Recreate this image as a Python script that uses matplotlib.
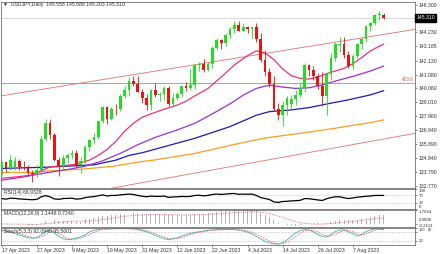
import matplotlib
matplotlib.use("Agg")
import matplotlib.pyplot as plt

plt.rcParams['font.family'] = ['Liberation Sans', 'DejaVu Sans']

# --- USDJPY daily candles, 17 Apr 2023 .. 16 Aug 2023 ---
opens = [134.10, 134.55, 134.10, 134.20, 134.65, 134.20, 134.10, 133.75, 133.65, 133.95,
         136.30, 137.45, 136.55, 134.70, 134.25, 134.85, 135.05, 135.25, 134.35, 134.60,
         135.70, 136.20, 136.45, 137.60, 138.70, 137.75, 138.55, 138.50, 139.45, 139.95,
         140.60, 140.40, 139.80, 139.30, 138.80, 139.95, 139.55, 139.60, 140.10, 138.90,
         139.35, 139.60, 140.20, 140.05, 140.30, 141.80, 141.90, 141.45, 141.90, 143.10,
         143.70, 143.45, 144.05, 144.45, 144.80, 144.30, 144.65, 144.45, 144.65, 143.75,
         142.15, 141.30, 140.35, 138.50, 138.10, 138.80, 138.90, 139.25, 139.55, 140.10,
         141.80, 141.45, 140.95, 140.25, 139.45, 141.15, 142.30, 143.30, 143.40, 142.55,
         141.75, 142.45, 143.35, 143.75, 144.70, 144.95, 145.55, 145.558]
highs = [134.60, 134.65, 135.10, 134.95, 134.75, 134.60, 134.35, 134.00, 134.30, 136.55,
         137.75, 137.80, 136.70, 134.90, 135.10, 135.25, 135.45, 135.45, 134.90, 135.80,
         136.30, 136.70, 137.65, 138.75, 138.75, 138.70, 138.90, 139.60, 140.20, 140.90,
         140.95, 140.95, 140.00, 139.60, 140.00, 140.45, 139.75, 140.25, 140.25, 139.70,
         139.80, 140.25, 140.50, 141.50, 141.90, 142.00, 142.25, 142.00, 143.20, 143.85,
         143.75, 144.15, 144.60, 145.05, 145.07, 144.90, 144.70, 144.70, 144.90, 144.20,
         142.90, 141.55, 140.95, 139.00, 139.10, 139.45, 139.55, 139.95, 140.50, 141.95,
         141.85, 141.70, 141.20, 141.30, 141.15, 142.70, 143.55, 143.90, 143.90, 142.85,
         142.60, 143.45, 143.85, 144.75, 145.00, 145.58, 145.86, 145.688]
lows = [133.60, 133.85, 134.00, 134.00, 134.00, 133.95, 133.55, 133.05, 133.45, 133.60,
        136.15, 136.30, 134.60, 133.50, 133.95, 134.50, 134.80, 134.10, 133.75, 134.40,
        135.40, 135.90, 136.30, 137.50, 137.40, 137.70, 138.10, 138.40, 139.30, 139.50,
        140.20, 139.75, 138.95, 138.45, 138.45, 139.40, 139.10, 139.20, 138.75, 138.75,
        139.15, 139.40, 139.85, 139.90, 140.00, 141.35, 141.25, 141.35, 141.60, 142.95,
        143.00, 143.20, 143.85, 144.20, 144.30, 144.30, 144.20, 143.85, 143.55, 142.05,
        141.00, 140.15, 138.40, 137.70, 137.25, 138.05, 138.55, 138.80, 139.40, 139.75,
        141.00, 140.70, 140.00, 138.75, 138.05, 140.70, 142.10, 142.80, 142.30, 141.55,
        141.50, 142.30, 143.00, 143.55, 144.35, 144.75, 145.15, 145.203]
closes = [134.55, 134.10, 134.70, 134.65, 134.20, 134.10, 133.75, 133.65, 133.95, 136.30,
          137.45, 136.55, 134.70, 134.25, 134.85, 135.05, 135.25, 134.35, 134.60, 135.70,
          136.20, 136.45, 137.60, 138.70, 137.75, 138.55, 138.50, 139.45, 139.95, 140.60,
          140.40, 139.80, 139.30, 138.80, 139.95, 139.55, 139.60, 140.10, 138.90, 139.35,
          139.60, 140.20, 140.05, 140.30, 141.80, 141.90, 141.45, 141.90, 143.10, 143.70,
          143.45, 144.05, 144.45, 144.80, 144.30, 144.65, 144.45, 144.65, 143.75, 142.15,
          141.30, 140.35, 138.50, 138.10, 138.80, 139.35, 139.25, 139.55, 140.10, 141.80,
          141.45, 140.95, 140.25, 139.45, 141.15, 142.30, 143.35, 143.40, 142.55, 141.75,
          142.45, 143.35, 143.75, 144.70, 144.95, 145.55, 145.58, 145.310]

# moving averages, sampled (bar index, price)
pink_idx = [0, 4, 7, 9, 11, 14, 17, 20, 22, 24, 26, 28, 30, 32, 34, 37, 40, 42, 44, 47, 50,
            53, 56, 58, 60, 62, 64, 66, 68, 70, 72, 74, 76, 78, 80, 82, 84, 86, 87]
pink_val = [133.35, 133.47, 133.60, 133.90, 134.20, 134.28, 134.40, 134.70, 135.05, 135.50,
            136.10, 136.85, 137.45, 137.90, 138.15, 138.50, 138.80, 139.10, 139.50, 140.05,
            140.90, 141.80, 142.50, 142.85, 142.70, 142.20, 141.50, 141.00, 140.80, 140.75,
            140.90, 141.15, 141.35, 141.55, 141.90, 142.35, 142.85, 143.20, 143.35]
purple_idx = [0, 5, 10, 15, 19, 23, 27, 31, 35, 40, 44, 48, 52, 55, 58, 61, 64, 67, 70, 73,
              76, 80, 84, 87]
purple_val = [133.20, 133.45, 133.75, 134.00, 134.25, 134.65, 135.20, 135.85, 136.40, 136.95,
              137.45, 138.15, 138.90, 139.55, 140.05, 140.30, 140.15, 140.05, 140.10, 140.30,
              140.60, 140.95, 141.35, 141.72]
blue_idx = [0, 10, 15, 21, 26, 29, 32, 37, 44, 52, 58, 61, 66, 70, 75, 79, 84, 87]
blue_val = [134.08, 134.17, 134.25, 134.35, 134.70, 135.05, 135.25, 135.70, 136.33, 137.20,
            138.05, 138.32, 138.45, 138.62, 138.95, 139.20, 139.57, 139.88]
orange_idx = [0, 7, 11, 18, 25, 31, 35, 44, 52, 60, 68, 76, 84, 87]
orange_val = [133.78, 133.78, 133.90, 134.02, 134.22, 134.55, 134.72, 135.20, 135.80, 136.35,
              136.70, 137.08, 137.50, 137.70]

# trend lines / levels
upper_idx, upper_val = [-0.2, 94.2], [139.49, 144.46]
lower_idx, lower_val = [20.0, 94.2], [132.31, 136.70]
fibo_level = 140.46
fibo_text = "423.6"
last_price = 145.310
price_ticks = [146.300, 145.265, 144.230, 143.185, 142.130, 141.080, 140.060, 139.010,
               137.960, 136.940, 135.890, 134.840, 133.790, 132.770]

rsi = [51, 48, 53, 52, 49, 48, 46, 45, 47, 60, 66, 60, 49, 47, 51, 52, 53, 48, 50, 56,
       59, 61, 65, 70, 64, 67, 67, 70, 72, 74, 72, 67, 63, 60, 64, 62, 62, 64, 57, 59,
       60, 62, 61, 62, 67, 68, 65, 67, 72, 74, 72, 74, 76, 77, 73, 74, 73, 74, 67, 56,
       51, 46, 34, 31, 36, 37, 39, 40, 42, 51, 50, 47, 44, 41, 50, 56, 60, 60, 55, 51,
       54, 58, 60, 63, 64, 67, 67, 66.93]

macd = [-0.10, -0.10, -0.05, -0.04, -0.06, -0.09, -0.14, -0.20, -0.22, 0.01,
        0.30, 0.45, 0.40, 0.30, 0.28, 0.28, 0.30, 0.23, 0.25, 0.55,
        0.62, 0.70, 0.85, 1.00, 1.02, 1.08, 1.12, 1.18, 1.25, 1.32,
        1.35, 1.33, 1.30, 1.24, 1.25, 1.22, 1.20, 1.20, 1.12, 1.10,
        1.10, 1.14, 1.14, 1.17, 1.25, 1.30, 1.30, 1.34, 1.43, 1.53,
        1.57, 1.63, 1.68, 1.73, 1.71, 1.73, 1.7654, 1.72, 1.62, 1.38,
        1.10, 0.80, 0.45, 0.12, -0.05, -0.18, -0.25, -0.28, -0.25, -0.05,
        0.05, 0.08, 0.05, -0.05, 0.05, 0.20, 0.38, 0.48, 0.50, 0.43,
        0.42, 0.50, 0.60, 0.74, 0.88, 1.02, 1.12, 1.1448]
macd_signal = [-0.05, -0.06, -0.07, -0.07, -0.07, -0.08, -0.09, -0.10, -0.11, -0.09,
               -0.04, 0.03, 0.09, 0.14, 0.19, 0.24, 0.29, 0.31, 0.30, 0.31,
               0.33, 0.37, 0.44, 0.52, 0.60, 0.68, 0.76, 0.85, 0.94, 1.00,
               1.05, 1.09, 1.12, 1.15, 1.17, 1.18, 1.19, 1.19, 1.18, 1.17,
               1.15, 1.14, 1.13, 1.13, 1.14, 1.15, 1.17, 1.19, 1.22, 1.26,
               1.30, 1.34, 1.38, 1.42, 1.45, 1.48, 1.50, 1.52, 1.52, 1.49,
               1.42, 1.30, 1.15, 0.98, 0.80, 0.60, 0.42, 0.26, 0.12, 0.03,
               -0.03, -0.07, -0.08, -0.07, -0.05, -0.02, 0.04, 0.11, 0.18, 0.23,
               0.28, 0.34, 0.41, 0.48, 0.55, 0.62, 0.68, 0.724]

stoch_main = [88, 82, 76, 68, 58, 50, 42, 38, 42, 60, 80, 88, 70, 50, 36, 29, 33, 40, 48, 59,
              78, 88, 93, 97, 96, 97, 98, 98, 98, 97, 96, 92, 85, 78, 68, 56, 45, 36, 30, 36,
              42, 52, 62, 69, 75, 79, 84, 88, 90, 92, 91, 92, 93, 92, 88, 84, 76, 65, 50, 34,
              20, 10, 4, 2, 12, 28, 52, 72, 86, 92, 90, 78, 62, 50, 46, 62, 80, 90, 90, 78,
              66, 52, 62, 80, 90, 96, 96, 92.09]
stoch_signal = [85, 84, 80, 75, 67, 59, 50, 43, 41, 47, 61, 76, 79, 69, 52, 38, 33, 34, 40, 49,
                62, 75, 86, 93, 95, 97, 97, 98, 98, 98, 97, 95, 91, 85, 77, 67, 56, 46, 37, 34,
                36, 43, 52, 61, 69, 74, 79, 84, 87, 90, 91, 92, 92, 92, 91, 88, 83, 75, 64, 50,
                35, 21, 11, 5, 6, 14, 31, 51, 70, 83, 89, 87, 77, 63, 53, 53, 63, 77, 87, 86,
                78, 65, 60, 65, 77, 89, 94, 95.56]

date_idx = [0, 8, 16, 24, 32, 40, 48, 56, 64, 72, 80]
date_labels = ["17 Apr 2023", "27 Apr 2023", "9 May 2023", "19 May 2023", "31 May 2023",
               "12 Jun 2023", "22 Jun 2023", "4 Jul 2023", "14 Jul 2023", "26 Jul 2023",
               "7 Aug 2023"]

# ------------------------------------------------------------------
W, H = 440, 254
fig = plt.figure(figsize=(W / 100, H / 100), dpi=100)
fig.patch.set_facecolor("white")

def panel(top, bottom, left=1, right=415):
    return fig.add_axes([left / W, 1 - bottom / H, (right - left) / W, (bottom - top) / H])

X0, X1 = -0.16, 94.15
FS = 3.7
SFS = 3.2
TXT = "#303030"
SPINE = "#707070"
UP, DOWN = "#22dd22", "#ee1111"

ax = panel(2, 188)
ax_rsi = panel(189, 208.5)
ax_macd = panel(210, 227)
ax_st = panel(228.3, 244.5)

for a in (ax, ax_rsi, ax_macd, ax_st):
    a.set_xlim(X0, X1)
    a.set_facecolor("white")
    for s in a.spines.values():
        s.set_color(SPINE)
        s.set_linewidth(0.6)
    a.tick_params(axis="x", bottom=False, labelbottom=False)
    a.yaxis.tick_right()
    a.tick_params(axis="y", length=1.5, width=0.4, pad=1, labelsize=FS,
                  colors=TXT, right=True, left=False)

# main chart
ax.set_ylim(132.62, 146.50)
ax.axhline(last_price, color="#c8c8c8", lw=0.5, zorder=1)
ax.axhline(fibo_level, color="#c88080", lw=0.6, zorder=1)
ax.plot(upper_idx, upper_val, color="#e07272", lw=0.6, zorder=1)
ax.plot(lower_idx, lower_val, color="#e07272", lw=0.6, zorder=1)
ax.text(X1 - 0.4, fibo_level + 0.06, fibo_text, ha="right", va="bottom",
        fontsize=3.3, color="#cc5555")

ax.plot(orange_idx, orange_val, color="#f5a020", lw=0.9, zorder=2)
ax.plot(blue_idx, blue_val, color="#1c1ca8", lw=0.9, zorder=2)
ax.plot(purple_idx, purple_val, color="#9a32d0", lw=0.9, zorder=2)
ax.plot(pink_idx, pink_val, color="#e8337c", lw=0.9, zorder=2)

for i in range(len(opens)):
    o, h, l, c = opens[i], highs[i], lows[i], closes[i]
    col = UP if c >= o else DOWN
    ax.vlines(i, l, h, color=col, lw=0.6, zorder=3)
    ax.bar(i, max(abs(c - o), 0.04), bottom=min(o, c), width=0.62,
           color=col, linewidth=0, zorder=4)

# the tick under the price box is hidden in the reference
ax.set_yticks(price_ticks)
ax.set_yticklabels(["" if abs(t - last_price) < 0.2 else f"{t:.3f}" for t in price_ticks])
ax.text(1.003, last_price, f"{last_price:.3f}", transform=ax.get_yaxis_transform(),
        ha="left", va="center", fontsize=FS, color="white", zorder=10,
        bbox=dict(boxstyle="square,pad=0.25", fc="black", ec="black"))
ax.text(0.006, 0.984, "▼  USDJPY,Daily  145.558 145.688 145.203 145.310",
        transform=ax.transAxes, ha="left", va="center", fontsize=FS, color=TXT)

# RSI
idx = list(range(len(rsi)))
ax_rsi.set_ylim(0, 100)
for lv in (70, 30):
    ax_rsi.axhline(lv, color="#a8a8a8", lw=0.5, ls=(0, (1, 1.5)))
ax_rsi.plot(idx, rsi, color="black", lw=0.9)
ax_rsi.set_yticks([100, 70, 30, 0])
ax_rsi.set_yticklabels([])
for v, t, va in ((100, "100", "top"), (66, "70", "center"), (30, "30", "center"), (0, "0", "bottom")):
    ax_rsi.text(1.01, v, t, transform=ax_rsi.get_yaxis_transform(), ha="left", va=va,
                fontsize=SFS, color=TXT)
ax_rsi.text(0.008, 0.82, "RSI(14) 66.9328", transform=ax_rsi.transAxes,
            ha="left", va="center", fontsize=FS, color=TXT)

# MACD
ax_macd.set_ylim(-0.45, 1.7654)
ax_macd.bar(idx, macd, width=0.22, color="#b4b4b4", linewidth=0)
ax_macd.plot(idx, macd_signal, color="#e05a5a", lw=0.6, ls=(0, (1, 1.2)))
ax_macd.set_yticks([1.7654, 0.0])
ax_macd.set_yticklabels([])
for v, t, va in ((1.7654, "1.7654", "top"), (0.18, "0.0000", "bottom"), (-0.06, "-0.2121", "top")):
    ax_macd.text(1.01, v, t, transform=ax_macd.get_yaxis_transform(), ha="left", va=va,
                 fontsize=SFS, color=TXT)
ax_macd.text(0.008, 0.78, "MACD(12,26,9) 1.1448 0.7240", transform=ax_macd.transAxes,
             ha="left", va="center", fontsize=FS, color=TXT)

# Stochastic
ax_st.set_ylim(0, 100)
for lv in (80, 20):
    ax_st.axhline(lv, color="#a8a8a8", lw=0.5, ls=(0, (1, 1.5)))
ax_st.plot(idx, stoch_main, color="#40b0a8", lw=0.6)
ax_st.plot(idx, stoch_signal, color="#e06060", lw=0.6, ls=(0, (2, 1.5)))
ax_st.set_yticks([100, 80, 20])
ax_st.set_yticklabels([])
ax_st.text(1.01, 100, "100", transform=ax_st.get_yaxis_transform(), ha="left", va="top",
           fontsize=SFS - 0.4, color=TXT)
ax_st.text(1.031, 100, "80", transform=ax_st.get_yaxis_transform(), ha="left", va="top",
           fontsize=SFS - 0.4, color=TXT)
ax_st.text(1.01, 22, "20", transform=ax_st.get_yaxis_transform(), ha="left", va="center",
           fontsize=SFS, color=TXT)
ax_st.text(0.008, 0.82, "Stoch(5,3,3) 92.0940 95.5601", transform=ax_st.transAxes,
           ha="left", va="center", fontsize=FS, color=TXT)

ax_st.tick_params(axis="x", bottom=True, labelbottom=True, length=1.5, width=0.4,
                  pad=1, labelsize=FS, colors=TXT)
ax_st.set_xticks(date_idx)
ax_st.set_xticklabels(date_labels, ha="left")

fig.savefig("out.png", dpi=100, facecolor="white")
